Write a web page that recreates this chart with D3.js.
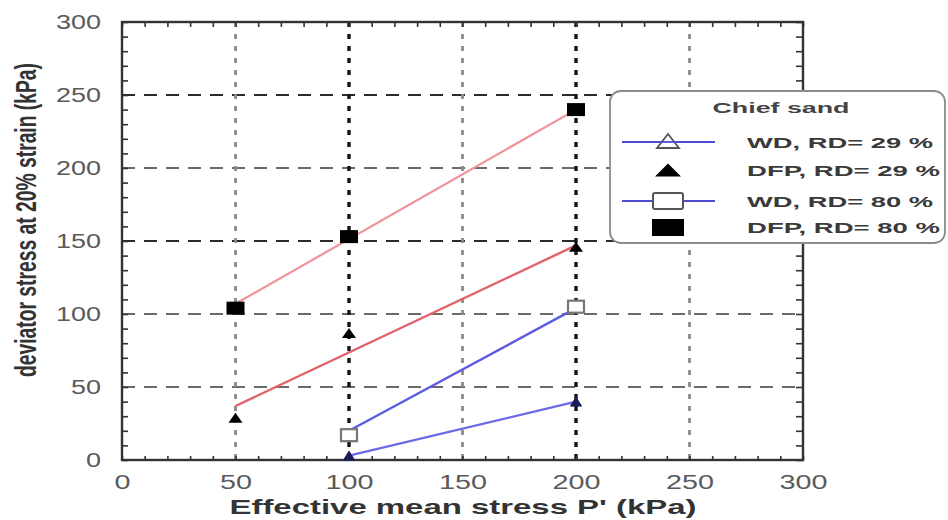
<!DOCTYPE html>
<html>
<head>
<meta charset="utf-8">
<script src="https://cdn.jsdelivr.net/npm/d3@7"></script>
<style>
  body { margin: 0; background: #fff; }
  svg { display: block; }
  text { font-family: "Liberation Sans", Arial, sans-serif; }
</style>
</head>
<body>
<svg id="chart" width="948" height="520"></svg>
<script>
// Chief sand: deviator stress at 20 % axial strain against effective mean stress

const xTicks = [0, 50, 100, 150, 200, 250, 300];
const yTicks = [0, 50, 100, 150, 200, 250, 300];

// measured points: p' (kPa) and q (kPa)
const wd29P = [100, 200];
const wd29Q = [3, 40];
const dfp29P = [50, 100, 200];
const dfp29Q = [29, 87, 146];
const wd80P = [100, 200];
const wd80Q = [17, 105];
const dfp80P = [50, 100, 200];
const dfp80Q = [104, 153, 240];

// straight lines drawn through each set
const wd29LineP = [100, 200];
const wd29LineQ = [3, 40];
const wd80LineP = [100, 200];
const wd80LineQ = [20, 104];
const dfp29LineP = [50, 200];
const dfp29LineQ = [37, 147];
const dfp80LineP = [50, 200];
const dfp80LineQ = [107, 240];

const legendTitle = "Chief sand";
const legendLabels = ["WD, RD= 29 %", "DFP, RD= 29 %", "WD, RD= 80 %", "DFP, RD= 80 %"];
const xTitle = "Effective mean stress P' (kPa)";
const yTitle = "deviator stress at 20% strain (kPa)";

const svg = d3.select("#chart");
const plotL = 122, plotR = 803, plotT = 22, plotB = 460;

const x = d3.scaleLinear().domain([0, 300]).range([plotL, plotR]);
const y = d3.scaleLinear().domain([0, 300]).range([plotB, plotT]);

const pts = (P, Q) => P.map((p, i) => [p, Q[i]]);

// ---- grid ----
const gridVals = [50, 100, 150, 200, 250];
const grid = svg.append("g");
gridVals.forEach(v => {
  const dark = (v === 150 || v === 250);
  grid.append("line")
    .attr("x1", plotL).attr("x2", plotR)
    .attr("y1", y(v)).attr("y2", y(v))
    .attr("stroke", dark ? "#2a2a2a" : "#6a6a6a")
    .attr("stroke-width", dark ? 2.2 : 2)
    .attr("stroke-dasharray", "13,9");
});
gridVals.forEach(v => {
  const dark = (v === 100 || v === 200);
  grid.append("line")
    .attr("x1", x(v)).attr("x2", x(v))
    .attr("y1", plotT).attr("y2", plotB)
    .attr("stroke", dark ? "#151515" : "#8a8a8a")
    .attr("stroke-width", dark ? 3.4 : 2.8)
    .attr("stroke-dasharray", "5,7");
});

// ---- axes: inward minor ticks on all four sides ----
const minor = d3.range(0, 301, 10);
const styleAxis = g => {
  g.select(".domain").remove();
  g.selectAll(".tick line").attr("stroke", "#333").attr("stroke-width", 1.6);
};

const yAxis = svg.append("g")
  .attr("transform", `translate(${plotL},0)`)
  .call(d3.axisLeft(y).tickValues(minor).tickSize(-6).tickPadding(21)
    .tickFormat(d => yTicks.includes(d) ? d : ""));
styleAxis(yAxis);

const xAxis = svg.append("g")
  .attr("transform", `translate(0,${plotB})`)
  .call(d3.axisBottom(x).tickValues(minor).tickSize(-4).tickPadding(15)
    .tickFormat(d => xTicks.includes(d) ? d : ""));
styleAxis(xAxis);

const topAxis = svg.append("g")
  .attr("transform", `translate(0,${plotT})`)
  .call(d3.axisTop(x).tickValues(minor).tickSize(-5).tickFormat(""));
styleAxis(topAxis);

const rightAxis = svg.append("g")
  .attr("transform", `translate(${plotR},0)`)
  .call(d3.axisRight(y).tickValues(minor).tickSize(-7).tickFormat(""));
styleAxis(rightAxis);

[yAxis, xAxis].forEach((g, k) => {
  g.selectAll(".tick text")
    .attr("font-size", 20)
    .attr("fill", "#5a5a5a")
    .attr("font-family", "'Liberation Sans', Arial, sans-serif")
    .each(function () {
      const t = d3.select(this);
      const s = t.text();
      if (s) t.attr("textLength", s.length * (k === 0 ? 15 : 16)).attr("lengthAdjust", "spacingAndGlyphs");
    });
});

// frame
svg.append("rect")
  .attr("x", plotL).attr("y", plotT)
  .attr("width", plotR - plotL).attr("height", plotB - plotT)
  .attr("fill", "none").attr("stroke", "#333").attr("stroke-width", 2.4);

// ---- lines ----
const line = d3.line().x(d => x(d[0])).y(d => y(d[1]));
const drawLine = (P, Q, color, w) =>
  svg.append("path").datum(pts(P, Q))
    .attr("d", line).attr("fill", "none")
    .attr("stroke", color).attr("stroke-width", w);

drawLine(dfp80LineP, dfp80LineQ, "#f0939b", 2.2);
drawLine(dfp29LineP, dfp29LineQ, "#e2626a", 2.4);
drawLine(wd80LineP, wd80LineQ, "#5c5ce0", 2.4);
drawLine(wd29LineP, wd29LineQ, "#6a6ae2", 2.2);

// ---- markers ----
const tri = (w, h) => `M0,${-h / 2}L${w / 2},${h / 2}L${-w / 2},${h / 2}Z`;

svg.append("g").selectAll("path").data(pts(wd29P, wd29Q)).join("path")
  .attr("d", tri(11, 9))
  .attr("transform", d => `translate(${x(d[0])},${y(d[1])})`)
  .attr("fill", "#1c1c5a").attr("stroke", "#1c1c5a").attr("stroke-width", 1);

svg.append("g").selectAll("path").data(pts(dfp29P, dfp29Q)).join("path")
  .attr("d", tri(14, 10))
  .attr("transform", d => `translate(${x(d[0])},${y(d[1])})`)
  .attr("fill", "#000");

svg.append("g").selectAll("rect").data(pts(wd80P, wd80Q)).join("rect")
  .attr("x", d => x(d[0]) - 8).attr("y", d => y(d[1]) - 6)
  .attr("width", 16).attr("height", 12)
  .attr("fill", "#fff").attr("stroke", "#777").attr("stroke-width", 2.2);

svg.append("g").selectAll("rect").data(pts(dfp80P, dfp80Q)).join("rect")
  .attr("x", d => x(d[0]) - 9).attr("y", d => y(d[1]) - 6.5)
  .attr("width", 18).attr("height", 13)
  .attr("fill", "#000");

// ---- axis titles ----
svg.append("text")
  .attr("x", 463).attr("y", 514)
  .attr("text-anchor", "middle")
  .attr("font-size", 21).attr("font-weight", "bold").attr("fill", "#333")
  .attr("textLength", 467).attr("lengthAdjust", "spacingAndGlyphs")
  .text(xTitle);

svg.append("text")
  .attr("transform", "translate(36,220) scale(1.55,1) rotate(-90)")
  .attr("text-anchor", "middle")
  .attr("font-size", 19).attr("font-weight", "bold").attr("fill", "#333")
  .attr("textLength", 314).attr("lengthAdjust", "spacingAndGlyphs")
  .text(yTitle);

// ---- legend ----
const lg = svg.append("g");
lg.append("rect")
  .attr("x", 610).attr("y", 91).attr("width", 335).attr("height", 152)
  .attr("rx", 11).attr("ry", 11)
  .attr("fill", "#fff").attr("stroke", "#8c8c8c").attr("stroke-width", 1.8);

lg.append("text")
  .attr("x", 781).attr("y", 113).attr("text-anchor", "middle")
  .attr("font-size", 14).attr("font-weight", "bold").attr("fill", "#444")
  .attr("textLength", 137).attr("lengthAdjust", "spacingAndGlyphs")
  .text(legendTitle);

const rowY = [142, 170, 201, 227];
const mx = 668;
const textLens = [186, 193, 186, 193];

legendLabels.forEach((lab, i) => {
  lg.append("text")
    .attr("x", 747).attr("y", rowY[i] + 6)
    .attr("font-size", 15).attr("font-weight", "bold").attr("fill", "#3a3a3a")
    .attr("textLength", textLens[i]).attr("lengthAdjust", "spacingAndGlyphs")
    .text(lab);
});

// row 1: blue line with open triangle
lg.append("line").attr("x1", 622).attr("x2", 715).attr("y1", rowY[0]).attr("y2", rowY[0])
  .attr("stroke", "#4c4cd0").attr("stroke-width", 1.8);
lg.append("path").attr("d", tri(22, 14))
  .attr("transform", `translate(${mx},${rowY[0] - 1})`)
  .attr("fill", "#fff").attr("stroke", "#555").attr("stroke-width", 1.8);
lg.append("line").attr("x1", 658).attr("x2", 678).attr("y1", rowY[0]).attr("y2", rowY[0])
  .attr("stroke", "#4c4cd0").attr("stroke-width", 1.8);

// row 2: filled triangle
lg.append("path").attr("d", tri(26, 13))
  .attr("transform", `translate(${mx},${rowY[1]})`)
  .attr("fill", "#000");

// row 3: blue line with open square
lg.append("line").attr("x1", 622).attr("x2", 715).attr("y1", rowY[2]).attr("y2", rowY[2])
  .attr("stroke", "#4c4cd0").attr("stroke-width", 1.8);
lg.append("rect").attr("x", mx - 15).attr("y", rowY[2] - 8).attr("width", 30).attr("height", 16)
  .attr("rx", 2)
  .attr("fill", "#fff").attr("stroke", "#555").attr("stroke-width", 2);

// row 4: filled square
lg.append("rect").attr("x", mx - 16).attr("y", rowY[3] - 8).attr("width", 32).attr("height", 17)
  .attr("fill", "#000");
</script>
</body>
</html>
